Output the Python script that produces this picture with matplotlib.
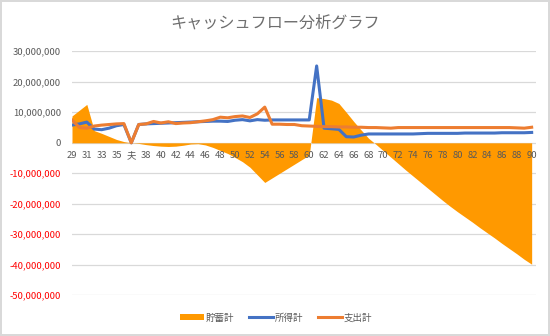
import numpy as np
import matplotlib
matplotlib.use("Agg")
import matplotlib.pyplot as plt
from matplotlib.patches import Patch
from matplotlib.lines import Line2D

plt.rcParams['font.family'] = ['Noto Sans CJK JP', 'DejaVu Sans']

# categories: age 29..36, the "夫" row, then 37..90
labels = [str(a) for a in range(29, 37)] + ['夫'] + [str(a) for a in range(37, 91)]

# values in millions of yen
savings = [8.8, 10.7, 12.6, 4.0, 3.1, 2.1, 1.1, 0.4,
           0.0,
           -0.2, -0.6, -0.9, -1.1, -1.2, -1.1, -0.8, -0.4, -0.3, -0.7,
           -1.5, -2.5, -3.5, -4.8, -6.2, -8.0, -10.5, -13.0, -11.5, -10.0,
           -8.5, -7.0, -5.5, -4.0, 14.8, 14.5, 14.0, 12.9, 10.0, 7.0,
           4.2, 1.5, -0.5, -2.6, -4.7, -6.8, -8.9, -10.9, -12.9, -14.9,
           -16.9, -18.9, -20.8, -22.6, -24.3, -26.0, -27.8, -29.5, -31.2, -33.0,
           -34.7, -36.4, -38.2, -39.8]
income = [5.8, 6.2, 6.8, 4.5, 4.3, 4.8, 5.6, 6.0,
          0.0,
          6.0, 6.2, 6.3, 6.4, 6.5, 6.6, 6.7, 6.8, 6.9, 7.0,
          7.1, 7.1, 7.0, 7.4, 7.6, 7.2, 7.6, 7.4, 7.5, 7.5,
          7.5, 7.5, 7.5, 7.5, 25.2, 4.8, 4.6, 4.4, 2.0, 1.9,
          2.5, 2.9, 2.9, 2.9, 2.9, 2.9, 2.9, 2.9, 3.0, 3.1,
          3.1, 3.1, 3.1, 3.1, 3.2, 3.2, 3.2, 3.2, 3.2, 3.3,
          3.3, 3.3, 3.3, 3.4]
expense = [7.5, 5.0, 4.8, 5.5, 5.8, 6.0, 6.2, 6.3,
           0.0,
           6.0, 6.2, 7.0, 6.5, 6.9, 6.3, 6.5, 6.6, 6.9, 7.2,
           7.6, 8.4, 8.2, 8.6, 8.8, 8.3, 9.5, 11.7, 6.1, 6.1,
           6.0, 6.0, 5.6, 5.5, 5.4, 5.3, 5.3, 5.2, 5.2, 5.1,
           5.1, 5.0, 5.0, 4.9, 4.8, 5.0, 5.0, 5.0, 5.0, 5.0,
           5.0, 5.0, 5.0, 5.0, 5.0, 5.0, 5.0, 5.0, 5.0, 5.0,
           5.0, 4.9, 4.8, 5.1]

series_names = ['貯蓄計', '所得計', '支出計']
yticks = np.arange(-50, 31, 10) * 1e6

x = np.arange(len(labels))
sav = np.array(savings) * 1e6
inc = np.array(income) * 1e6
exp_ = np.array(expense) * 1e6

c_area = '#FF9900'
c_inc = '#4472C4'
c_exp = '#ED7D31'
c_txt = '#595959'
c_grid = '#D9D9D9'

fig = plt.figure(figsize=(5.5, 3.36), dpi=100)
fig.patch.set_edgecolor(c_grid)
fig.patch.set_linewidth(1.5)
ax = fig.add_axes([0.1309, 0.1211, 0.8429, 0.7262])

# horizontal gridlines sit underneath the savings area
for v in yticks:
    ax.axhline(v, color=c_grid, lw=0.9, zorder=0.5)

ax.fill_between(x, 0, sav, color=c_area, lw=0, zorder=1)
ax.plot(x, inc, color=c_inc, lw=2.2, zorder=2, solid_joinstyle='round')
ax.plot(x, exp_, color=c_exp, lw=2.2, zorder=2.1, solid_joinstyle='round')

ax.set_xlim(0, 62.53)
ax.set_ylim(-50e6, 30e6)

# category labels run along the zero line
for s in ax.spines.values():
    s.set_visible(False)
ax.spines['bottom'].set_position(('data', 0))

ax.set_xticks(x[::2])
ax.set_xticklabels(labels[::2])
ax.tick_params(axis='x', length=0, pad=6, labelsize=6.8, labelcolor=c_txt)

ax.set_yticks(yticks)
ax.set_yticklabels([f"{v:,.0f}" for v in yticks])
ax.tick_params(axis='y', length=0, pad=8, labelsize=6.8)
for lbl, v in zip(ax.get_yticklabels(), yticks):
    lbl.set_color('#FF0000' if v < 0 else c_txt)

fig.text(0.501, 0.932, 'キャッシュフロー分析グラフ', ha='center', va='center',
         fontsize=11.6, color='#6E6E6E')

handles = [Patch(facecolor=c_area, edgecolor='none'),
           Line2D([], [], color=c_inc, lw=2.2),
           Line2D([], [], color=c_exp, lw=2.2)]
fig.legend(handles, series_names, loc='center', bbox_to_anchor=(0.502, 0.054),
           ncol=3, frameon=False, fontsize=6.8, labelcolor=c_txt,
           handlelength=2.5, handleheight=0.6, handletextpad=0.2, columnspacing=1.6)

fig.savefig('out.png', dpi=100)
